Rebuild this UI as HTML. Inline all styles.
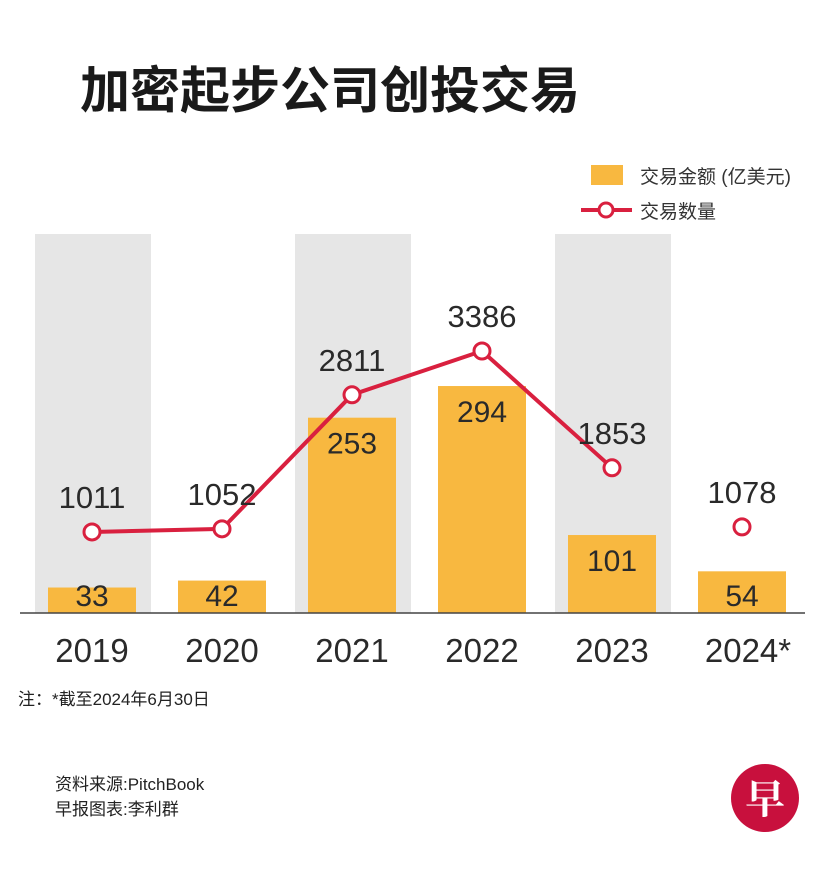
<!DOCTYPE html>
<html><head><meta charset="utf-8">
<style>
body{margin:0;background:#fff;}
svg text{font-family:"Liberation Sans","Noto Sans CJK SC",sans-serif;}
</style></head>
<body>
<svg id="chart" width="834" height="866" viewBox="0 0 834 866" xmlns="http://www.w3.org/2000/svg">
<rect width="834" height="866" fill="#fff"/>
<text x="80" y="108" font-size="50" font-weight="bold" fill="#1a1a1a" style="font-family:'Noto Sans CJK SC',sans-serif">加密起步公司创投交易</text>
<g>
<rect x="591" y="165" width="32" height="20" fill="#f8b840"/>
<text x="640" y="183" font-size="19" fill="#333">交易金额 (亿美元)</text>
<line x1="581" y1="210" x2="632" y2="210" stroke="#d9203f" stroke-width="4"/>
<circle cx="606" cy="210" r="7" fill="#fff" stroke="#d9203f" stroke-width="3"/>
<text x="640" y="218" font-size="19" fill="#333">交易数量</text>
</g>
<g id="bg"></g><g id="bars"></g><g id="line"></g><g id="labels"></g>
<line x1="20" y1="613" x2="805" y2="613" stroke="#444" stroke-width="1.5"/>
<text x="18" y="705" font-size="17" fill="#222">注：*截至2024年6月30日</text>
<text x="55" y="790" font-size="17" fill="#222">资料来源:PitchBook</text>
<text x="55" y="815" font-size="17" fill="#222">早报图表:李利群</text>
<g>
<circle cx="765" cy="798" r="34" fill="#c8103d"/>
<text x="765" y="813" font-size="40" font-weight="bold" fill="#fff" text-anchor="middle" style="font-family:'Noto Serif CJK SC',serif">早</text>
</g>
</svg>
<script>
const years=["2019","2020","2021","2022","2023","2024*"];
const amounts=[33,42,253,294,101,54];
const counts=[1011,1052,2811,3386,1853,1078];
const NS="http://www.w3.org/2000/svg";
const base=613;
function xC(i){return 92+i*130;}
function yBar(v){return base-v*0.772;}
function yLine(v){return 609-v*0.0762;}
function mk(tag,attrs,parent){const e=document.createElementNS(NS,tag);for(const k in attrs)e.setAttribute(k,attrs[k]);document.getElementById(parent).appendChild(e);return e;}
years.forEach((y,i)=>{
  if(i%2===0){const g=mk('rect',{x:xC(i)-57,y:234,width:116,height:base-234,fill:'#e6e6e6'},'bg');
  
  }
  const b=mk('rect',{x:xC(i)-44,y:yBar(amounts[i]),width:88,height:base-yBar(amounts[i]),fill:'#f8b840'},'bars');
  
  
  const bl=mk('text',{x:xC(i),y:Math.min(yBar(amounts[i])+36,606),'font-size':30,fill:'#2a2a2a','text-anchor':'middle'},'labels');
  bl.textContent=amounts[i];
  
  
  const yl=mk('text',{x:xC(i)+(i===5?6:0),y:662,'font-size':33,fill:'#2a2a2a','text-anchor':'middle'},'labels');
  yl.textContent=y;
  
  
});
let d='';
for(let i=0;i<5;i++)d+=(i?'L':'M')+xC(i)+','+yLine(counts[i]);
const p=mk('path',{d:d,fill:'none',stroke:'#d9203f','stroke-width':4},'line');


counts.forEach((c,i)=>{
  const m=mk('circle',{cx:xC(i),cy:yLine(c),r:8,fill:'#fff',stroke:'#d9203f','stroke-width':3},'line');
  
  
  const t=mk('text',{x:xC(i),y:yLine(c)-24,'font-size':31,fill:'#2a2a2a','text-anchor':'middle'},'labels');
  t.textContent=c;
  
  
});
</script>
</body></html>
